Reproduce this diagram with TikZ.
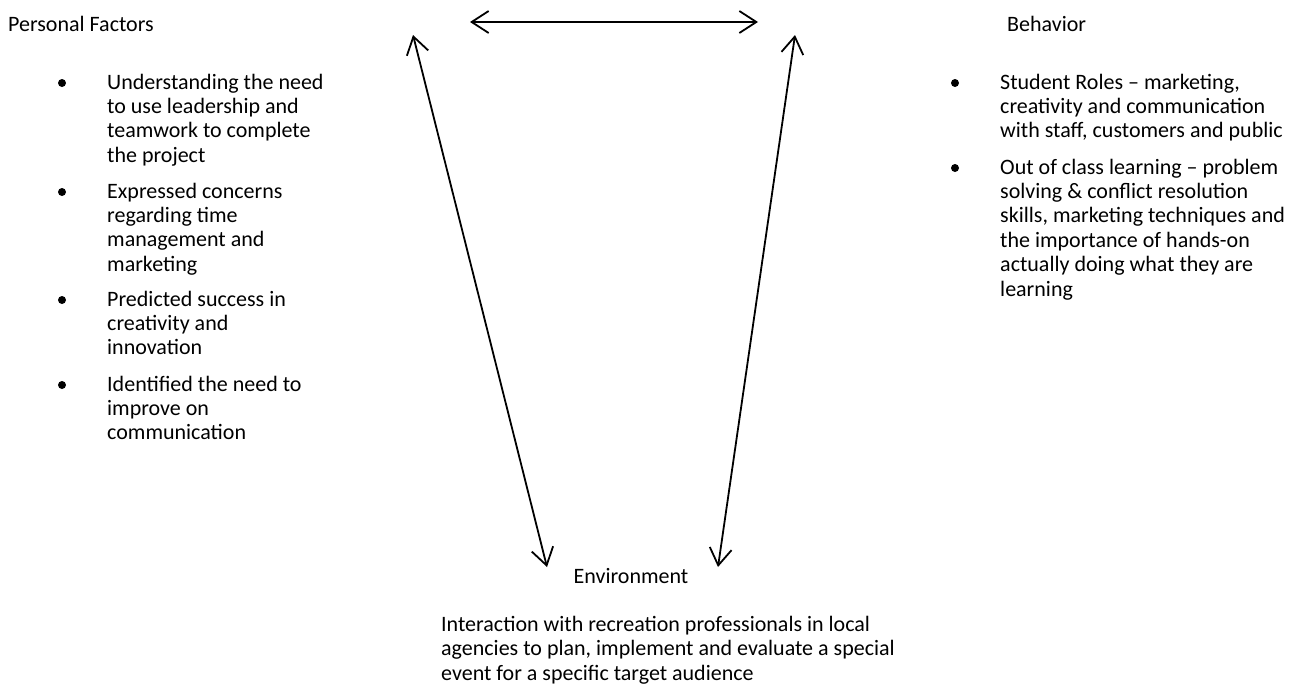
\documentclass[tikz,border=0pt]{standalone}
\usepackage{fontspec}
\setmainfont{Carlito}
\usetikzlibrary{arrows.meta}

\begin{document}
\begin{tikzpicture}[
    x=1pt, y=-1pt,
    every node/.style={inner sep=0pt, font=\fontsize{22}{24.4}\selectfont},
    head/.style={anchor=base west},
    item/.style={anchor=north west, align=left},
    dot/.style={circle, fill, minimum size=8pt},
    arrow/.style={{Straight Barb[length=17pt,width=22pt]}-{Straight Barb[length=17pt,width=22pt]}, line width=1.8pt}
]
\useasboundingbox (0,0) rectangle (1309,686);

% headings
\node[head] (pf) at (8,31) {Personal Factors};
\node[head] (bh) at (1007,31) {Behavior};
\node[anchor=base] (env) at (631,583) {Environment};

% personal factors
\node[item] (p1) at (107,71.9) {\strut Understanding the need\\to use leadership and\\teamwork to complete\\the project};
\node[item] (p2) at (107,180.9) {\strut Expressed concerns\\regarding time\\management and\\marketing};
\node[item] (p3) at (107,288.9) {\strut Predicted success in\\creativity and\\innovation};
\node[item] (p4) at (107,373.9) {\strut Identified the need to\\improve on\\communication};
\foreach \i in {1,...,4}
    \node[dot] (pd\i) at ([xshift=-45pt,yshift=-11.1pt]p\i.north west) {};

% behavior
\node[item] (b1) at (1000,71.9) {\strut Student Roles -- marketing,\\creativity and communication\\with staff, customers and public};
\node[item] (b2) at (1000,156.9) {\strut Out of class learning -- problem\\solving \& conflict resolution\\skills, marketing techniques and\\the importance of hands-on\\actually doing what they are\\learning};
\foreach \i in {1,2}
    \node[dot] (bd\i) at ([xshift=-45pt,yshift=-11.1pt]b\i.north west) {};

% environment
\node[item] (e1) at (441,614) {\strut Interaction with recreation professionals in local\\agencies to plan, implement and evaluate a special\\event for a specific target audience};

% arrows
\coordinate (pfh) at (470,22);
\coordinate (bhh) at (758,22);
\coordinate (pfv) at (413,35);
\coordinate (envl) at (547,567);
\coordinate (bhv) at (795,35);
\coordinate (envr) at (718,567);
\draw[arrow] (pfh) -- (bhh);
\draw[arrow] (pfv) -- (envl);
\draw[arrow] (bhv) -- (envr);
\end{tikzpicture}
\end{document}
